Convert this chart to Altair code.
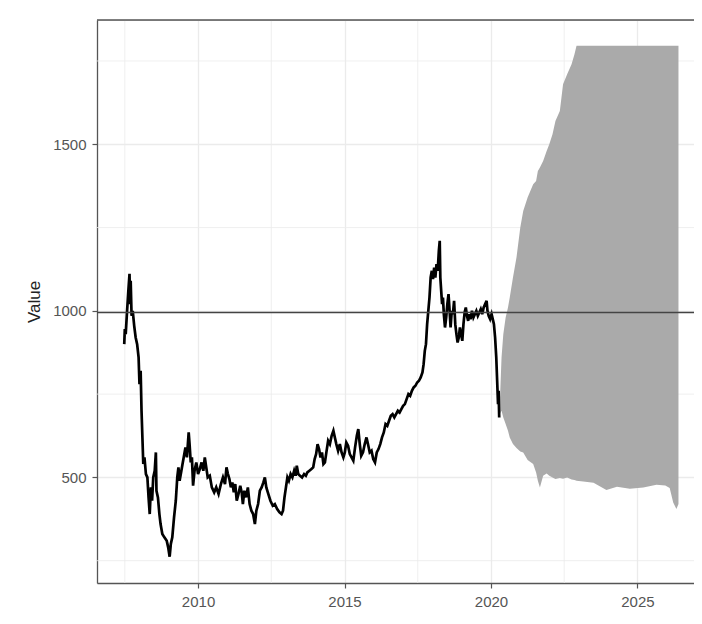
import altair as alt
import pandas as pd

# Observed series (decimal year, value)
line_years = [
    2007.48, 2007.50, 2007.53, 2007.57, 2007.62, 2007.66, 2007.68, 2007.70, 2007.73, 2007.77,
    2007.82, 2007.87, 2007.92, 2007.97, 2008.00, 2008.04, 2008.07, 2008.10, 2008.13, 2008.17,
    2008.22, 2008.27, 2008.31, 2008.35, 2008.39, 2008.43, 2008.47, 2008.52, 2008.56, 2008.58,
    2008.63, 2008.68, 2008.72, 2008.78, 2008.85, 2008.93, 2008.98, 2009.03, 2009.07, 2009.12,
    2009.18, 2009.24, 2009.29, 2009.33, 2009.37, 2009.42, 2009.47, 2009.52, 2009.57, 2009.62,
    2009.68, 2009.71, 2009.75, 2009.79, 2009.83, 2009.88, 2009.94, 2010.00, 2010.06, 2010.12,
    2010.18, 2010.23, 2010.28, 2010.33, 2010.40, 2010.47, 2010.55, 2010.62, 2010.70, 2010.78,
    2010.85, 2010.92, 2010.97, 2011.02, 2011.07, 2011.12, 2011.17, 2011.22, 2011.27, 2011.32,
    2011.38, 2011.44, 2011.49, 2011.53, 2011.58, 2011.64, 2011.70, 2011.76, 2011.82, 2011.88,
    2011.94, 2011.99, 2012.05, 2012.11, 2012.17, 2012.23, 2012.28, 2012.33, 2012.40, 2012.47,
    2012.55, 2012.62, 2012.70, 2012.78, 2012.85, 2012.90, 2012.95, 2013.00, 2013.05, 2013.10,
    2013.16, 2013.22, 2013.28, 2013.33, 2013.37, 2013.42, 2013.48, 2013.55, 2013.62, 2013.68,
    2013.73, 2013.80, 2013.87, 2013.93, 2013.98, 2014.03, 2014.08, 2014.13, 2014.18, 2014.23,
    2014.28, 2014.33, 2014.38, 2014.44, 2014.50, 2014.56, 2014.62, 2014.67, 2014.72, 2014.78,
    2014.84, 2014.90, 2014.96, 2015.01, 2015.06, 2015.12, 2015.18, 2015.24, 2015.30, 2015.36,
    2015.42, 2015.47, 2015.52, 2015.57, 2015.63, 2015.69, 2015.75, 2015.80, 2015.86, 2015.92,
    2015.98, 2016.04, 2016.10, 2016.16, 2016.22, 2016.28, 2016.34, 2016.40, 2016.46, 2016.52,
    2016.58, 2016.64, 2016.70, 2016.76, 2016.82, 2016.88, 2016.94, 2017.00, 2017.06, 2017.12,
    2017.18, 2017.24, 2017.30, 2017.36, 2017.42, 2017.48, 2017.54, 2017.60, 2017.66, 2017.70,
    2017.74, 2017.78, 2017.82, 2017.86, 2017.90, 2017.94, 2017.98, 2018.02, 2018.06, 2018.10,
    2018.14, 2018.18, 2018.22, 2018.25, 2018.27, 2018.30, 2018.33, 2018.36, 2018.39, 2018.43,
    2018.47, 2018.51, 2018.55, 2018.58, 2018.62, 2018.66, 2018.70, 2018.74, 2018.78, 2018.82,
    2018.86, 2018.90, 2018.94, 2018.98, 2019.02, 2019.06, 2019.10, 2019.14, 2019.18, 2019.22,
    2019.26, 2019.30, 2019.35, 2019.40, 2019.45, 2019.50, 2019.55, 2019.60, 2019.65, 2019.70,
    2019.75, 2019.80, 2019.85, 2019.88, 2019.92, 2019.97, 2020.02, 2020.06, 2020.10, 2020.14,
    2020.18, 2020.21, 2020.24, 2020.26, 2020.28,
]
line_values = [
    900, 945, 930, 990, 1060, 1111, 1020, 1090, 985, 1000,
    955, 920, 900, 860, 780, 820, 700, 620, 540, 560,
    510, 500, 440, 390, 470, 430, 500, 520, 575, 460,
    440, 390, 360, 330, 320, 310, 290, 262, 300, 320,
    380, 430, 500, 530, 490, 515, 540, 565, 590, 560,
    635, 600, 545, 560, 475, 520, 545, 510, 525, 545,
    520, 560, 530, 500, 505, 470, 455, 470, 450, 480,
    500, 480, 530, 510, 495, 470, 485, 455, 480, 430,
    450, 475, 455, 420, 460, 440, 470, 420, 400, 390,
    360, 400, 420, 460, 470, 485, 500, 470, 450, 430,
    415, 420, 405, 395, 390, 400, 440, 470, 500, 490,
    510, 500, 520, 505, 535, 510, 505, 500, 510, 505,
    515, 520, 525, 530, 555, 570, 600, 585, 560, 575,
    540, 545, 575, 610, 600, 625, 640, 620, 600, 580,
    600, 575, 560, 575, 605, 595, 570, 560, 550, 590,
    625, 645, 600, 565, 575, 600, 620, 600, 575, 580,
    555, 545, 575, 585, 600, 620, 635, 660, 655, 670,
    685, 690, 680, 690, 700, 695, 705, 715, 720, 735,
    750, 745, 760, 770, 775, 785, 790, 800, 815, 840,
    880, 900, 960, 1000, 1040, 1100, 1120, 1095, 1130, 1100,
    1140, 1120, 1180, 1210, 1100, 1060, 1020, 1040, 990, 950,
    980, 1020, 1050, 1010, 950, 1000, 990, 1030, 960, 930,
    905, 920, 950, 930, 910, 960, 995, 1010, 985, 970,
    990, 975, 1000, 980, 990, 1000, 985, 995, 1005, 990,
    1010, 1020, 1030, 1000, 985, 975, 990, 975, 960, 920,
    860, 790, 720, 760, 680,
]

# Simulated fan envelope
fan_years = [
    2020.30, 2020.36, 2020.42, 2020.50, 2020.58, 2020.64, 2020.75, 2020.87, 2021.00, 2021.10,
    2021.25, 2021.44, 2021.54, 2021.60, 2021.67, 2021.78, 2021.90, 2021.99, 2022.10, 2022.20,
    2022.35, 2022.46, 2022.60, 2022.75, 2022.85, 2022.92, 2023.15, 2023.50, 2023.94, 2024.30,
    2024.74, 2025.20, 2025.65, 2025.95, 2026.10, 2026.22, 2026.33, 2026.40,
]
fan_upper = [
    720, 860, 930, 980, 1010, 1040, 1100, 1160, 1250, 1300,
    1340, 1380, 1390, 1420, 1430, 1450, 1480, 1500, 1530, 1570,
    1600, 1680, 1710, 1740, 1770, 1796, 1796, 1796, 1796, 1796,
    1796, 1796, 1796, 1796, 1796, 1796, 1796, 1796,
]
fan_lower = [
    690, 700, 680, 660, 640, 620, 600, 588, 578, 575,
    552, 540, 515, 490, 470, 505, 512, 505, 500, 495,
    498, 496, 500, 494, 492, 490, 488, 484, 462, 472,
    466, 470, 478, 476, 468, 425, 405, 420,
]

ref_value = [995]
x_major = [2010, 2015, 2020, 2025]
y_major = [500, 1000, 1500]
x_minor = [2007.5, 2012.5, 2017.5, 2022.5]
y_minor = [250, 750, 1250, 1750]

line_df = pd.DataFrame({"year": line_years, "value": line_values})
fan_df = pd.DataFrame({"year": fan_years, "upper": fan_upper, "lower": fan_lower})
ref_df = pd.DataFrame({"value": ref_value})
xminor_df = pd.DataFrame({"year": x_minor})
yminor_df = pd.DataFrame({"value": y_minor})

W, H = 597, 563
FONT = "Liberation Sans"
xscale = alt.Scale(domain=[2006.55, 2026.93], nice=False, zero=False)
yscale = alt.Scale(domain=[183, 1873], nice=False, zero=False)

xaxis = alt.Axis(values=x_major, format="d", title=None, grid=True,
                 gridColor="#ebebeb", gridWidth=1.3, domainColor="#555555",
                 domainWidth=1.3, tickColor="#555555", tickSize=5, tickWidth=1.2,
                 labelFontSize=15, labelColor="#555555", labelPadding=6,
                 labelFont=FONT)
yaxis = alt.Axis(values=y_major, format="d", title="Value", grid=True,
                 gridColor="#ebebeb", gridWidth=1.3, domainColor="#555555",
                 domainWidth=1.3, tickColor="#555555", tickSize=5, tickWidth=1.2,
                 labelFontSize=15, labelColor="#555555", labelPadding=6,
                 labelFont=FONT, titleFont=FONT, titleFontSize=17,
                 titleFontWeight="normal", titleColor="#222222", titlePadding=10,
                 minExtent=44, maxExtent=44)

minor_x = alt.Chart(xminor_df).mark_rule(color="#ebebeb", strokeWidth=0.8).encode(
    x=alt.X("year:Q", scale=xscale, axis=xaxis))
minor_y = alt.Chart(yminor_df).mark_rule(color="#ebebeb", strokeWidth=0.8).encode(
    y=alt.Y("value:Q", scale=yscale, axis=yaxis))

fan = alt.Chart(fan_df).mark_area(color="#aaaaaa", opacity=1).encode(
    x=alt.X("year:Q", scale=xscale, axis=xaxis),
    y=alt.Y("upper:Q", scale=yscale, axis=yaxis),
    y2="lower:Q",
)

line = alt.Chart(line_df).mark_line(color="#000000", strokeWidth=2.7,
                                    strokeJoin="miter").encode(
    x=alt.X("year:Q", scale=xscale, axis=xaxis),
    y=alt.Y("value:Q", scale=yscale, axis=yaxis),
)

hline = alt.Chart(ref_df).mark_rule(color="#444444", strokeWidth=1.5).encode(
    y=alt.Y("value:Q", scale=yscale, axis=yaxis))

top_border = alt.Chart(ref_df).mark_rule(color="#555555", strokeWidth=1.3).encode(
    x=alt.value(0), x2=alt.value(W), y=alt.value(0))

chart = alt.layer(minor_x, minor_y, fan, line, hline, top_border).properties(
    width=W, height=H,
    autosize=alt.AutoSizeParams(type="none"),
    padding={"left": 89, "top": 12, "right": 0, "bottom": 30},
).configure_view(stroke=None).configure(background="white")

chart.save("out.html", embed_options={"renderer": "svg", "actions": False})
